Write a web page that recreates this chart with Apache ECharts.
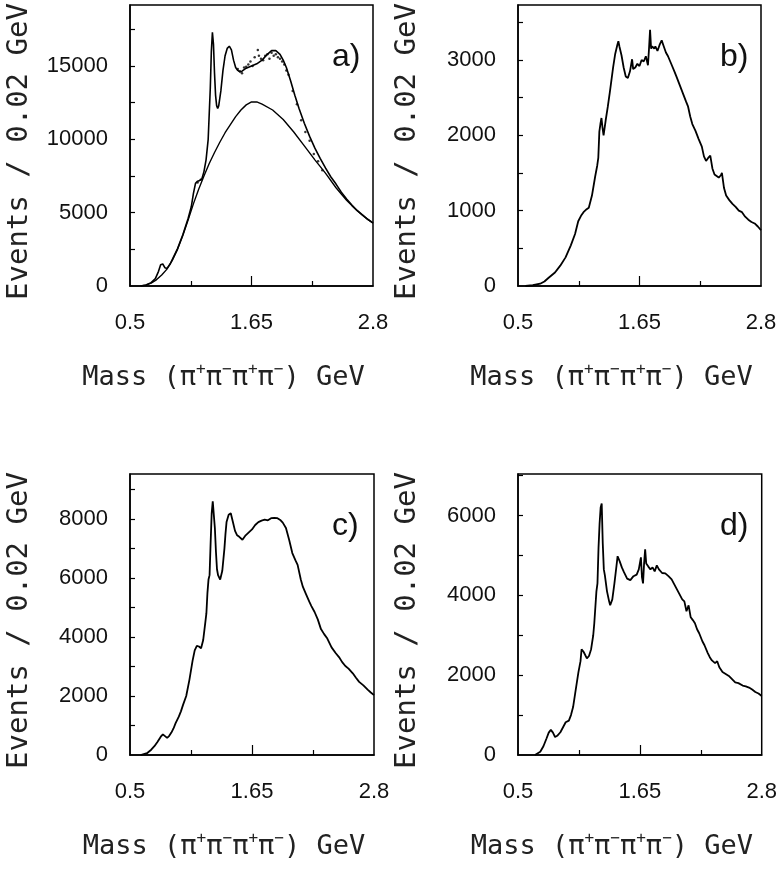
<!DOCTYPE html>
<html>
<head>
<meta charset="utf-8">
<script src="https://cdn.jsdelivr.net/npm/echarts@6/dist/echarts.min.js"></script>
<style>
  html, body { margin: 0; padding: 0; background: #fff; }
  #chart { width: 780px; height: 880px; }
</style>
</head>
<body>
<div id="chart"></div>
<script>
// mass ticks (GeV)
const massTicks = [1.075, 2.225];
const massMajor = [1.65];
const massLabels = [0.5, 1.65, 2.8];

// a) fit (signal + background) and background only
const fitA = [[0.6,0],[0.65,70],[0.7,230],[0.74,500],[0.77,1000],[0.79,1450],[0.8,1550],[0.81,1500],[0.83,1250],[0.85,1200],[0.88,1500],[0.9,1800],[0.95,2550],[1.0,3500],[1.05,4600],[1.08,5400],[1.1,6300],[1.12,7000],[1.14,7150],[1.16,7200],[1.18,7300],[1.2,7800],[1.22,8600],[1.24,10000],[1.26,13500],[1.27,16000],[1.28,17300],[1.29,16500],[1.3,14500],[1.31,13000],[1.32,12300],[1.33,12100],[1.34,12300],[1.36,13300],[1.38,14700],[1.4,15700],[1.42,16200],[1.44,16350],[1.46,16100],[1.48,15400],[1.5,14900],[1.52,14700],[1.54,14600],[1.56,14650],[1.6,14850],[1.65,15000],[1.7,15150],[1.75,15400],[1.8,15800],[1.84,16050],[1.88,16050],[1.92,15800],[1.95,15400],[1.98,14900],[2.02,14000],[2.06,13000],[2.1,12100],[2.15,11100],[2.2,10200],[2.25,9400],[2.3,8700],[2.35,8050],[2.4,7450],[2.45,6950],[2.5,6400],[2.55,5930],[2.6,5520],[2.65,5150],[2.7,4850],[2.75,4550],[2.8,4300]];
const bgA = [[0.6,0],[0.65,60],[0.7,200],[0.75,420],[0.8,750],[0.85,1150],[0.9,1750],[0.95,2500],[1.0,3450],[1.05,4500],[1.1,5600],[1.15,6600],[1.2,7500],[1.25,8350],[1.3,9100],[1.35,9800],[1.4,10450],[1.45,11000],[1.5,11550],[1.55,12000],[1.6,12350],[1.65,12550],[1.7,12550],[1.75,12400],[1.85,12000],[1.95,11350],[2.05,10500],[2.15,9550],[2.25,8600],[2.35,7700],[2.45,6700],[2.55,5850],[2.6,5480],[2.65,5130],[2.7,4830],[2.75,4540],[2.8,4280]];
const dotsA = [[1.14,7050],[1.17,7250],[1.52,14800],[1.54,14650],[1.56,14500],[1.58,14900],[1.6,14950],[1.62,15100],[1.64,15300],[1.66,15000],[1.68,15600],[1.71,16100],[1.72,15700],[1.74,15500],[1.76,15400],[1.78,15700],[1.8,15800],[1.82,15500],[1.84,15900],[1.86,15700],[1.88,15800],[1.9,15600],[1.92,15500],[1.94,15300],[1.96,15100],[1.98,14700],[2.0,14400],[2.04,13300],[2.08,12400],[2.12,11300],[2.16,10500],[2.2,9900],[2.24,9000],[2.28,8500],[2.32,7900]];

// b) events per 0.02 GeV
const histB = [[0.57,0],[0.64,10],[0.71,30],[0.75,60],[0.79,110],[0.85,180],[0.9,270],[0.95,380],[1.0,540],[1.04,690],[1.07,860],[1.1,940],[1.12,980],[1.15,1020],[1.17,1040],[1.2,1200],[1.23,1450],[1.25,1600],[1.26,1700],[1.27,2050],[1.28,2150],[1.29,2230],[1.3,2100],[1.31,2000],[1.33,2200],[1.35,2380],[1.37,2580],[1.4,2900],[1.42,3080],[1.44,3200],[1.45,3250],[1.46,3180],[1.48,3060],[1.5,2900],[1.52,2780],[1.54,2760],[1.56,2850],[1.58,3010],[1.59,2880],[1.61,2900],[1.63,2950],[1.65,2920],[1.67,3000],[1.69,2980],[1.71,3050],[1.73,2930],[1.74,3150],[1.75,3400],[1.76,3150],[1.77,3180],[1.79,3150],[1.8,3180],[1.82,3120],[1.84,3200],[1.86,3260],[1.88,3180],[1.9,3100],[1.92,3050],[1.95,2950],[1.98,2850],[2.0,2780],[2.03,2670],[2.06,2560],[2.09,2450],[2.11,2380],[2.13,2250],[2.15,2150],[2.18,2060],[2.21,1950],[2.24,1850],[2.26,1720],[2.28,1660],[2.3,1700],[2.32,1730],[2.34,1560],[2.36,1480],[2.38,1460],[2.4,1440],[2.42,1470],[2.43,1500],[2.45,1300],[2.47,1200],[2.5,1140],[2.53,1090],[2.56,1050],[2.59,1000],[2.62,980],[2.65,920],[2.68,880],[2.71,850],[2.74,830],[2.77,790],[2.8,740]];

// c)
const histC = [[0.6,0],[0.66,60],[0.7,180],[0.73,300],[0.76,450],[0.79,620],[0.81,700],[0.83,640],[0.85,580],[0.87,650],[0.89,760],[0.91,900],[0.93,1080],[0.96,1300],[0.98,1480],[1.0,1700],[1.03,2000],[1.06,2550],[1.09,3200],[1.11,3550],[1.13,3700],[1.15,3680],[1.17,3620],[1.19,3900],[1.21,4500],[1.22,4800],[1.23,5500],[1.24,5950],[1.25,6100],[1.26,7200],[1.27,8200],[1.28,8600],[1.29,8650],[1.3,7700],[1.31,6900],[1.32,6300],[1.33,6100],[1.35,5950],[1.37,6250],[1.39,7000],[1.4,7500],[1.41,7900],[1.43,8150],[1.45,8200],[1.47,7900],[1.49,7600],[1.51,7450],[1.53,7400],[1.56,7300],[1.59,7450],[1.62,7550],[1.65,7650],[1.68,7800],[1.71,7900],[1.74,7950],[1.77,7980],[1.8,7960],[1.83,8030],[1.86,8040],[1.89,8030],[1.92,7960],[1.94,7880],[1.97,7700],[2.0,7300],[2.03,6850],[2.06,6600],[2.08,6450],[2.11,5950],[2.13,5700],[2.16,5450],[2.19,5200],[2.21,5050],[2.24,4850],[2.27,4600],[2.3,4270],[2.33,4100],[2.36,3950],[2.4,3650],[2.44,3450],[2.47,3320],[2.5,3150],[2.53,3020],[2.56,2930],[2.6,2770],[2.63,2620],[2.66,2480],[2.7,2360],[2.74,2220],[2.77,2120],[2.8,2030]];

// d)
const histD = [[0.66,0],[0.71,80],[0.74,220],[0.77,420],[0.79,560],[0.81,630],[0.83,560],[0.85,450],[0.87,480],[0.9,570],[0.93,720],[0.95,820],[0.98,860],[1.0,1000],[1.02,1200],[1.04,1550],[1.07,2070],[1.09,2350],[1.1,2650],[1.12,2580],[1.15,2420],[1.17,2480],[1.19,2650],[1.21,3000],[1.22,3300],[1.23,3700],[1.24,4100],[1.25,4300],[1.26,5200],[1.27,5800],[1.28,6200],[1.29,6300],[1.3,5300],[1.31,4650],[1.32,4500],[1.34,4100],[1.36,3850],[1.37,3750],[1.39,3900],[1.41,4300],[1.43,4750],[1.44,4980],[1.46,4850],[1.48,4700],[1.5,4580],[1.53,4420],[1.56,4380],[1.59,4480],[1.62,4520],[1.64,4650],[1.66,4950],[1.67,4450],[1.68,4300],[1.69,4800],[1.7,5150],[1.71,4800],[1.73,4720],[1.75,4650],[1.77,4700],[1.79,4600],[1.81,4750],[1.83,4650],[1.86,4560],[1.89,4550],[1.92,4480],[1.95,4400],[1.97,4300],[2.0,4150],[2.02,4050],[2.05,3900],[2.07,3850],[2.09,3600],[2.11,3750],[2.13,3450],[2.15,3380],[2.17,3300],[2.19,3150],[2.21,3050],[2.24,2850],[2.26,2750],[2.29,2560],[2.31,2450],[2.33,2370],[2.36,2300],[2.38,2350],[2.4,2200],[2.43,2080],[2.46,2030],[2.49,1980],[2.52,1900],[2.55,1820],[2.58,1800],[2.62,1740],[2.65,1720],[2.68,1690],[2.71,1640],[2.74,1580],[2.77,1540],[2.8,1480]];

// y axis: max, labelled ticks, small ticks
const yMax = [19160, 3730, 9530, 7040];
const yLabels = [[0, 5000, 10000, 15000], [0, 1000, 2000, 3000], [0, 2000, 4000, 6000, 8000], [0, 2000, 4000, 6000]];
const yTicks = [[2500, 5000, 7500, 10000, 12500, 15000, 17500], [500, 1000, 1500, 2000, 2500, 3000, 3500], [1000, 2000, 3000, 4000, 5000, 6000, 7000, 8000, 9000], [1000, 2000, 3000, 4000, 5000, 6000, 7000]];
const panelNames = ["a)", "b)", "c)", "d)"];

var chartDom = document.getElementById("chart");
var myChart = echarts.init(chartDom);

const grids = [
  { left: 130, top: 5, width: 243, height: 281 },
  { left: 518, top: 5, width: 243, height: 281 },
  { left: 130, top: 474, width: 244, height: 281 },
  { left: 518, top: 474, width: 244, height: 281 },
];

const labelFont = "Liberation Sans";
const nameFont = "DejaVu Sans Mono";

let xAxes = [];
let yAxes = [];
grids.forEach((g, i) => {
  xAxes.push({
    type: "value",
    gridIndex: i,
    min: 0.5,
    max: 2.8,
    axisLine: { lineStyle: { color: "#000", width: 1.5 } },
    axisTick: { inside: true, length: 5, customValues: massTicks, lineStyle: { color: "#000", width: 1.2 } },
    axisLabel: {
      customValues: massLabels,
      margin: 26,
      color: "#111",
      fontFamily: labelFont,
      fontSize: 22,
      formatter: (v) => String(v),
    },
    splitLine: { show: false },
    name: "{t|Mass (π}{s|+}{t|π}{s|−}{t|π}{s|+}{t|π}{s|−}{t|) GeV}",
    nameLocation: "middle",
    nameGap: 76,
    nameTextStyle: {
      padding: [0, 56, 0, 0],
      rich: {
        t: { fontFamily: nameFont, fontSize: 27, color: "#222", lineHeight: 32 },
        s: { fontFamily: nameFont, fontSize: 16, color: "#222", verticalAlign: "top", lineHeight: 32 },
      },
    },
  });
  // longer centre tick
  xAxes.push({
    type: "value",
    gridIndex: i,
    min: 0.5,
    max: 2.8,
    position: "bottom",
    axisLine: { show: false },
    axisTick: { inside: true, length: 10, customValues: massMajor, lineStyle: { color: "#000", width: 1.2 } },
    axisLabel: { show: false },
    splitLine: { show: false },
  });
  yAxes.push({
    type: "value",
    gridIndex: i,
    min: 0,
    max: yMax[i],
    axisLine: { show: true, lineStyle: { color: "#000", width: 1.5 } },
    axisTick: { show: true, inside: true, length: 5, customValues: yTicks[i], lineStyle: { color: "#000", width: 1.2 } },
    axisLabel: {
      customValues: yLabels[i],
      margin: 22,
      color: "#111",
      fontFamily: labelFont,
      fontSize: 22,
      formatter: (v) => String(v),
    },
    splitLine: { show: false },
    name: "Events / 0.02 GeV",
    nameLocation: "middle",
    nameGap: 96,
    nameTextStyle: { fontFamily: nameFont, fontSize: 29, color: "#222", padding: [0, 12, 0, 0] },
  });
});

const mkLine = (data, idx, w) => ({
  type: "line",
  xAxisIndex: idx * 2,
  yAxisIndex: idx,
  data: data,
  showSymbol: false,
  symbol: "none",
  animation: false,
  lineStyle: { color: "#000", width: w || 1.6 },
  z: 3,
});

let option = {
  animation: false,
  grid: grids.map((g) => ({ ...g, show: true, borderColor: "#000", borderWidth: 1.5, backgroundColor: "transparent" })),
  xAxis: xAxes,
  yAxis: yAxes,
  series: [
    mkLine(bgA, 0, 1.4),
    mkLine(fitA, 0, 1.6),
    {
      type: "scatter",
      xAxisIndex: 0,
      yAxisIndex: 0,
      data: dotsA,
      symbolSize: 2.5,
      itemStyle: { color: "#000" },
      animation: false,
    },
    mkLine(histB, 1, 1.8),
    mkLine(histC, 2, 1.8),
    mkLine(histD, 3, 1.8),
  ],
  graphic: panelNames.map((t, i) => ({
    type: "text",
    left: grids[i].left + 202,
    top: grids[i].top + 36,
    style: { text: t, fontFamily: labelFont, fontSize: 32, fill: "#111" },
  })),
};

option && myChart.setOption(option);
</script>
</body>
</html>
